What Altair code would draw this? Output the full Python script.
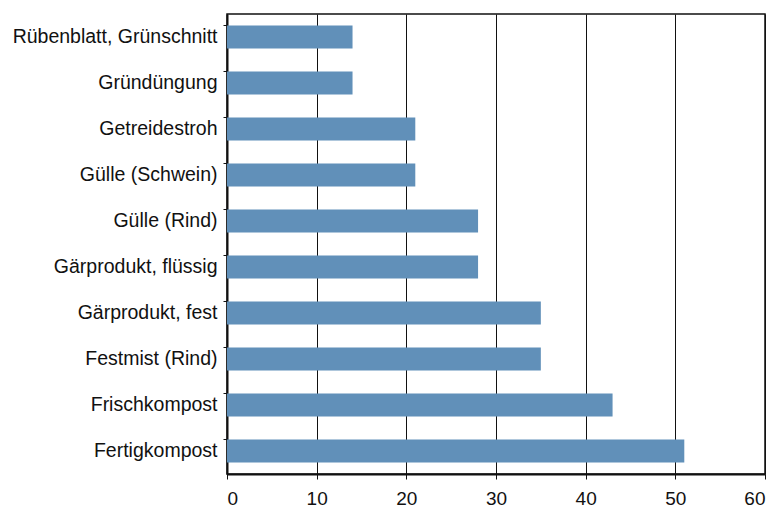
import altair as alt
import pandas as pd

categories = [
    "Rübenblatt, Grünschnitt",
    "Gründüngung",
    "Getreidestroh",
    "Gülle (Schwein)",
    "Gülle (Rind)",
    "Gärprodukt, flüssig",
    "Gärprodukt, fest",
    "Festmist (Rind)",
    "Frischkompost",
    "Fertigkompost",
]
values = [14, 14, 21, 21, 28, 28, 35, 35, 43, 51]
x_ticks = [0, 10, 20, 30, 40, 50, 60]

df = pd.DataFrame({"cat": categories, "val": values})

FONT = "Liberation Sans"

chart = (
    alt.Chart(df)
    .mark_bar(color="#6190b9")
    .encode(
        x=alt.X(
            "val:Q",
            scale=alt.Scale(domain=[0, 60], nice=False),
            axis=alt.Axis(
                title=None,
                values=x_ticks,
                grid=True,
                gridColor="#111111",
                gridOpacity=1,
                gridWidth=1,
                domainColor="#111111",
                domainWidth=2,
                tickColor="#111111",
                tickSize=5,
                labelFontSize=19,
                labelFont=FONT,
                labelColor="#111111",
                labelPadding=10,
            ),
        ),
        y=alt.Y(
            "cat:N",
            sort=categories,
            scale=alt.Scale(paddingInner=0.5, paddingOuter=0.25),
            axis=alt.Axis(
                title=None,
                grid=False,
                bandPosition=0,
                domainColor="#111111",
                domainWidth=2,
                tickColor="#111111",
                tickSize=4,
                labelFontSize=19.5,
                labelFont=FONT,
                labelColor="#111111",
                labelPadding=6,
                labelLimit=400,
            ),
        ),
    )
    .properties(
        width=538,
        height=460,
        autosize=alt.AutoSizeParams(type="none"),
        padding={"left": 219, "top": 6, "right": 11, "bottom": 36},
    )
    .configure_view(stroke="#111111", strokeWidth=1.5)
)

chart.save("out.html", embed_options={"renderer": "svg", "actions": False})
